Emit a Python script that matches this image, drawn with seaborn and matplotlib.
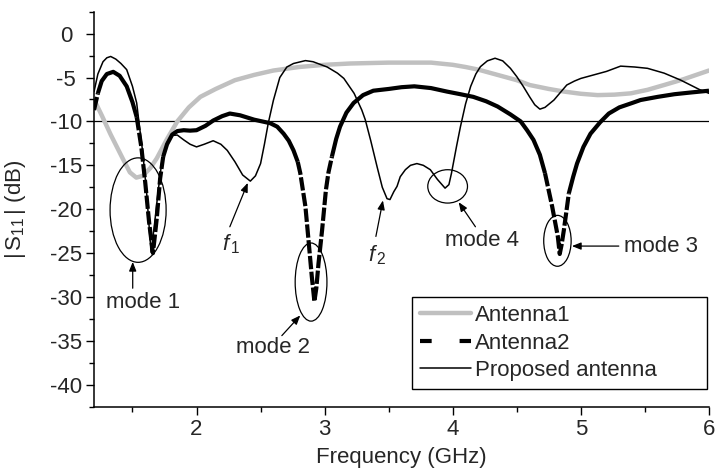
import numpy as np
import matplotlib
matplotlib.use("Agg")
import matplotlib.pyplot as plt
import seaborn as sns
from matplotlib.patches import Ellipse
from matplotlib.lines import Line2D

# --- data ---
freq_a1 = [1.2, 1.26, 1.33, 1.43, 1.48, 1.53, 1.58, 1.64, 1.69, 1.77, 1.85, 1.94, 2.03, 2.15,
           2.3, 2.45, 2.6, 2.8, 3.0, 3.2, 3.5, 3.83, 4.0, 4.1, 4.2, 4.35, 4.5, 4.6, 4.75, 4.87,
           5.0, 5.13, 5.26, 5.39, 5.52, 5.65, 5.8, 5.9, 6.0]
s11_a1 = [-7.5, -9.3, -11.5, -14.4, -15.8, -16.4, -16.2, -15.3, -14.2, -12.0, -10.0, -8.4, -7.2, -6.3,
          -5.3, -4.7, -4.2, -3.8, -3.55, -3.4, -3.3, -3.3, -3.55, -3.8, -4.1, -4.7, -5.3, -5.85, -6.3, -6.6,
          -6.85, -7.0, -6.95, -6.8, -6.4, -5.85, -5.2, -4.7, -4.2]

freq_a2 = [1.2, 1.23, 1.26, 1.3, 1.35, 1.4, 1.455, 1.5, 1.533, 1.57, 1.6, 1.63, 1.66, 1.69, 1.716,
           1.74, 1.77, 1.81, 1.85, 1.9, 1.95, 2.0, 2.07, 2.13, 2.2, 2.26, 2.34, 2.45, 2.575, 2.63,
           2.68, 2.72, 2.757, 2.79, 2.81, 2.85, 2.874, 2.9, 2.92, 2.935, 2.952, 2.98, 3.01, 3.03,
           3.057, 3.09, 3.12, 3.17, 3.226, 3.3, 3.38, 3.5, 3.6, 3.7, 3.83, 3.955, 4.06, 4.16, 4.26,
           4.35, 4.45, 4.53, 4.58, 4.63, 4.68, 4.72, 4.776, 4.82, 4.835, 4.85, 4.867, 4.906, 4.94,
           4.97, 5.02, 5.075, 5.15, 5.218, 5.3, 5.4, 5.466, 5.6, 5.73, 5.86, 6.0]
s11_a2 = [-8.7, -6.8, -5.4, -4.6, -4.35, -4.8, -6.0, -7.8, -9.5, -13.0, -17.0, -21.5, -25.0, -21.0, -16.5,
          -14.0, -12.6, -11.5, -11.1, -11.0, -11.05, -11.0, -10.5, -9.9, -9.4, -9.1, -9.3, -9.8, -10.2, -10.6,
          -11.4, -12.2, -13.3, -14.6, -15.9, -19.7, -23.5, -27.7, -30.5, -29.0, -26.2, -22.4, -17.8, -15.8,
          -14.0, -12.0, -10.6, -9.0, -7.9, -7.0, -6.5, -6.3, -6.1, -6.0, -6.2, -6.6, -6.9, -7.2, -7.7,
          -8.3, -9.2, -10.0, -11.0, -12.1, -13.8, -15.9, -19.7, -23.1, -25.1, -24.0, -22.4, -18.2, -16.3,
          -14.8, -12.9, -11.4, -10.1, -9.1, -8.4, -7.9, -7.56, -7.2, -6.9, -6.7, -6.5]

freq_prop = [1.2, 1.23, 1.27, 1.3, 1.33, 1.37, 1.41, 1.455, 1.5, 1.533, 1.55, 1.58, 1.61, 1.645, 1.67,
             1.7, 1.73, 1.77, 1.81, 1.85, 1.9, 1.95, 2.0, 2.06, 2.13, 2.19, 2.24, 2.3, 2.36, 2.42,
             2.46, 2.5, 2.53, 2.56, 2.6, 2.65, 2.705, 2.757, 2.85, 2.91, 3.02, 3.1, 3.15, 3.23, 3.29,
             3.317, 3.36, 3.41, 3.45, 3.487, 3.51, 3.54, 3.565, 3.59, 3.63, 3.67, 3.72, 3.77, 3.825,
             3.88, 3.94, 3.97, 3.99, 4.03, 4.06, 4.1, 4.14, 4.18, 4.216, 4.27, 4.33, 4.39, 4.45, 4.5,
             4.55, 4.6, 4.64, 4.68, 4.72, 4.79, 4.84, 4.89, 4.95, 5.0, 5.1, 5.2, 5.31, 5.42, 5.52,
             5.65, 5.78, 5.93, 6.0]
s11_prop = [-6.6, -4.6, -3.2, -2.75, -2.6, -2.9, -3.4, -4.1, -6.0, -7.9, -10.0, -13.5, -18.0, -24.9, -22.0,
            -18.0, -14.5, -12.4, -11.6, -11.55, -12.1, -12.6, -12.9, -12.6, -12.2, -12.6, -13.3, -14.6, -16.1, -16.8,
            -16.2, -14.8, -12.6, -10.2, -7.6, -5.0, -3.8, -3.4, -3.07, -3.2, -3.8, -4.5, -5.1, -6.8, -8.7,
            -9.8, -12.2, -15.2, -17.5, -18.8, -18.9, -18.0, -17.4, -16.3, -15.5, -15.0, -14.8, -15.0, -15.5,
            -16.6, -17.6, -17.2, -15.9, -12.8, -10.6, -8.0, -6.0, -4.6, -3.76, -3.1, -2.8, -3.1, -3.95, -4.9,
            -6.0, -7.2, -8.1, -8.6, -8.4, -7.56, -6.7, -5.85, -5.4, -5.1, -4.7, -4.3, -3.7, -3.8, -3.95,
            -4.5, -5.3, -6.4, -6.8]

labels = ["Antenna1", "Antenna2", "Proposed antenna"]

sns.set_theme(style="ticks")
plt.rcParams["font.family"] = ["Liberation Sans", "DejaVu Sans"]
plt.rcParams["mathtext.fontset"] = "custom"
plt.rcParams["mathtext.rm"] = "Liberation Sans"
plt.rcParams["mathtext.it"] = "Liberation Sans:italic"
plt.rcParams["axes.unicode_minus"] = False

FS = 16
fig = plt.figure(figsize=(7.15, 4.72), dpi=100)
ax = fig.add_axes([0.1315, 0.1383, 0.8601, 0.8369])

ax.axhline(-10, color="black", lw=0.9, zorder=1)

sns.lineplot(x=freq_a1, y=s11_a1, ax=ax, color="#c0c0c0", lw=3.2, zorder=2)

# Antenna2: solid where the curve is flat, dashed on the steep flanks
x2 = np.array(freq_a2)
y2 = np.array(s11_a2)
slope = np.abs(np.diff(y2) / np.diff(x2))
steep_seg = slope > 62
pt_steep = np.zeros(len(x2), bool)
pt_flat = np.zeros(len(x2), bool)
pt_steep[:-1] |= steep_seg
pt_steep[1:] |= steep_seg
pt_flat[:-1] |= ~steep_seg
pt_flat[1:] |= ~steep_seg
ax.plot(x2, np.where(pt_flat, y2, np.nan), color="black", lw=3.0, zorder=3,
        solid_capstyle="butt", solid_joinstyle="round")
ax.plot(x2, np.where(pt_steep, y2, np.nan), color="black", lw=3.0, zorder=3,
        dashes=(3.2, 0.6))

sns.lineplot(x=freq_prop, y=s11_prop, ax=ax, color="black", lw=1.1, zorder=4)

ax.set_xlim(1.2, 6.0)
ax.set_ylim(-42.5, 2.5)
ax.set_xticks([2, 3, 4, 5, 6])
ax.set_xticks(np.arange(1.5, 6.01, 0.5), minor=True)
ax.set_yticks(np.arange(-40, 0.1, 5))
ax.set_yticks(np.arange(-42.5, 2.6, 2.5), minor=True)
ax.set_yticklabels([f"{v:d}" for v in range(-40, 1, 5)])

for s in ["top", "right"]:
    ax.spines[s].set_visible(False)
for s in ["left", "bottom"]:
    ax.spines[s].set_linewidth(1.1)
    ax.spines[s].set_color("black")
ax.tick_params(which="major", direction="out", length=6, width=1.0, labelsize=FS, color="black")
ax.tick_params(which="minor", direction="out", length=3.5, width=1.0, color="black")
ax.tick_params(axis="x", pad=3)
ax.tick_params(axis="y", pad=14)
for lab in ax.get_yticklabels():
    lab.set_horizontalalignment("center")

ax.set_xlabel("Frequency (GHz)", fontsize=FS, labelpad=5)
ax.set_ylabel(r"$|\,\mathrm{S}_{11}\,|$ (dB)", fontsize=FS, labelpad=16)

# annotations
ell = [((1.544, -20.1), 0.4375, 11.9), ((2.894, -28.3), 0.248, 8.9),
       ((3.96, -17.4), 0.31, 3.8), ((4.817, -23.6), 0.214, 5.8)]
for c, w, h in ell:
    ax.add_patch(Ellipse(c, w, h, fill=False, ec="black", lw=0.9, zorder=5))

arrows = [((1.502, -29.0), (1.502, -26.0)), ((2.26, -22.0), (2.40, -17.0)),
          ((3.40, -23.1), (3.455, -19.0)), ((2.666, -34.4), (2.81, -32.1)),
          ((4.177, -22.0), (4.046, -19.2)), ((5.296, -24.2), (4.93, -24.2))]
for tail, head in arrows:
    ax.annotate("", xy=head, xytext=tail,
                arrowprops=dict(arrowstyle="-|>,head_length=0.45,head_width=0.18",
                                color="black", lw=0.9, shrinkA=0, shrinkB=0))

ax.text(1.583, -30.6, "mode 1", fontsize=FS, ha="center", va="center")
ax.text(2.60, -35.7, "mode 2", fontsize=FS, ha="center", va="center")
ax.text(4.23, -23.6, "mode 4", fontsize=FS, ha="center", va="center")
ax.text(5.335, -24.2, "mode 3", fontsize=FS, ha="left", va="center")
ax.text(2.27, -24.0, r"$f_{\,1}$", fontsize=FS, ha="center", va="center")
ax.text(3.41, -25.2, r"$f_{\,2}$", fontsize=FS, ha="center", va="center")

handles = [Line2D([], [], color="#c0c0c0", lw=3.2),
           Line2D([], [], color="black", lw=3.0, dashes=(2.8, 6.7)),
           Line2D([], [], color="black", lw=1.1)]
leg = ax.legend(handles, labels, loc="lower left", mode="expand",
                bbox_to_anchor=(0.517, 0.045, 0.48, 0.228),
                fontsize=FS, frameon=True, fancybox=False, framealpha=1, edgecolor="black",
                handlelength=2.3, handletextpad=0.2, labelspacing=0.3, borderpad=0.35,
                borderaxespad=0)
leg.get_frame().set_linewidth(1.0)

fig.savefig("out.png", dpi=100)
